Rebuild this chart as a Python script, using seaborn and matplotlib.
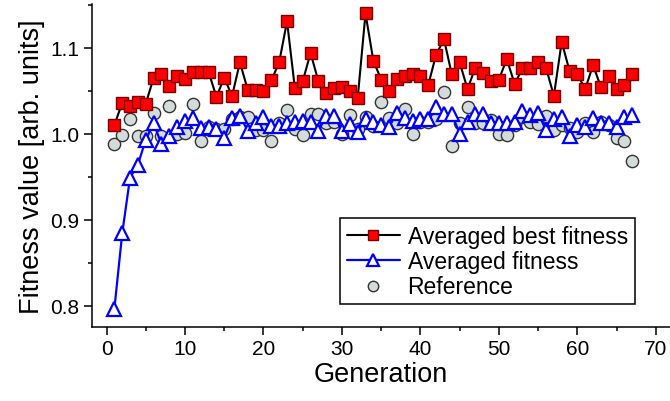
import matplotlib
matplotlib.use("Agg")
import matplotlib.pyplot as plt
from matplotlib.ticker import MultipleLocator
import seaborn as sns
import numpy as np

generation = list(range(1, 68))

best_fitness = [
    1.010, 1.036, 1.032, 1.037, 1.035, 1.065, 1.069, 1.055, 1.067, 1.064,
    1.072, 1.072, 1.072, 1.043, 1.065, 1.044, 1.083, 1.051, 1.051, 1.050,
    1.062, 1.083, 1.131, 1.053, 1.061, 1.094, 1.061, 1.047, 1.053, 1.054,
    1.050, 1.041, 1.140, 1.085, 1.063, 1.050, 1.064, 1.067, 1.069, 1.067,
    1.057, 1.092, 1.110, 1.069, 1.083, 1.052, 1.077, 1.071, 1.061, 1.063,
    1.087, 1.058, 1.076, 1.076, 1.083, 1.077, 1.044, 1.107, 1.073, 1.069,
    1.052, 1.080, 1.054, 1.067, 1.052, 1.057, 1.069,
]

avg_fitness = [
    0.796, 0.884, 0.949, 0.964, 0.993, 1.012, 0.988, 0.997, 1.008, 1.015,
    1.018, 1.007, 1.008, 1.006, 0.995, 1.018, 1.021, 1.003, 1.012, 1.019,
    1.009, 1.009, 1.013, 1.014, 1.015, 1.014, 1.003, 1.021, 1.021, 1.003,
    1.011, 1.002, 1.017, 1.014, 1.010, 1.008, 1.024, 1.018, 1.015, 1.017,
    1.017, 1.031, 1.023, 1.023, 1.000, 1.014, 1.023, 1.023, 1.012, 1.013,
    1.012, 1.014, 1.026, 1.022, 1.024, 1.004, 1.017, 1.019, 0.997, 1.010,
    1.008, 1.018, 1.012, 1.012, 1.008, 1.019, 1.022,
]

reference = [
    0.988, 0.999, 1.017, 0.997, 0.997, 1.024, 0.997, 1.032, 1.000, 1.001,
    1.035, 0.991, 1.008, 1.005, 1.006, 1.017, 1.019, 1.019, 1.004, 1.004,
    0.991, 1.013, 1.028, 1.005, 0.998, 1.023, 1.023, 1.013, 1.014, 1.000,
    1.022, 1.006, 1.019, 1.009, 1.037, 1.018, 1.012, 1.029, 1.000, 1.014,
    1.014, 1.017, 1.049, 0.986, 1.013, 1.031, 1.013, 1.013, 1.016, 1.000,
    0.999, 1.010, 1.020, 1.014, 1.011, 1.021, 1.004, 1.010, 1.007, 1.002,
    1.012, 1.002, 1.014, 1.010, 0.995, 0.991, 0.968,
]

labels = ["Averaged best fitness", "Averaged fitness", "Reference"]
x_ticks = [0, 10, 20, 30, 40, 50, 60, 70]
y_ticks = [0.8, 0.9, 1.0, 1.1]

sns.set_style("ticks")
plt.rcParams["font.family"] = ["Liberation Sans", "DejaVu Sans"]
plt.rcParams["text.color"] = "black"
plt.rcParams["axes.labelcolor"] = "black"
plt.rcParams["xtick.color"] = "black"
plt.rcParams["ytick.color"] = "black"

fig = plt.figure(figsize=(6.7, 4.02), dpi=100)
ax = fig.add_axes([92 / 670, 1 - 328 / 402, 1 - 92 / 670, (328 - 5) / 402])

sns.scatterplot(x=generation, y=reference, ax=ax, s=78, color="#d3dbdb",
                edgecolor="#333333", linewidth=1.0, zorder=2, label=labels[2])
sns.lineplot(x=generation, y=avg_fitness, ax=ax, color="#0000ff", linewidth=1.6,
             marker="^", markersize=9.5, markerfacecolor="white",
             markeredgecolor="#0000ff", markeredgewidth=1.6, zorder=3,
             label=labels[1], sort=False, estimator=None)
sns.lineplot(x=generation, y=best_fitness, ax=ax, color="black", linewidth=1.5,
             marker="s", markersize=8.6, markerfacecolor="#ff0000",
             markeredgecolor="#7a0000", markeredgewidth=1.0, zorder=4,
             label=labels[0], sort=False, estimator=None)

ax.set_xlim(-1.85, 71.8)
ax.set_ylim(0.775, 1.151)
ax.set_xticks(x_ticks)
ax.set_yticks(y_ticks)
ax.xaxis.set_minor_locator(MultipleLocator(5))
ax.yaxis.set_minor_locator(MultipleLocator(0.05))
ax.set_yticklabels([f"{v:.1f}" for v in y_ticks])

for side in ["top", "right"]:
    ax.spines[side].set_visible(False)
for side in ["left", "bottom"]:
    ax.spines[side].set_linewidth(1.1)
    ax.spines[side].set_color("black")

ax.tick_params(axis="both", which="major", direction="out", length=6, width=1.1,
               labelsize=15, pad=3, colors="black", labelcolor="black")
ax.tick_params(axis="both", which="minor", direction="out", length=3.2, width=1.1,
               colors="black")

ax.set_xlabel("Generation", fontsize=19.5, labelpad=2, color="black")
ax.set_ylabel("Fitness value [arb. units]", fontsize=19.5, labelpad=4, color="black")

handles, labs = ax.get_legend_handles_labels()
order = [labs.index(l) for l in labels]
leg = ax.legend([handles[i] for i in order], [labs[i] for i in order],
                loc="lower left", bbox_to_anchor=(0.429, 0.07), borderaxespad=0,
                fontsize=16.5, frameon=True, fancybox=False, edgecolor="black",
                handlelength=2.3, handletextpad=0.35, labelspacing=0.08,
                borderpad=0.3, markerscale=0.85)
leg.get_frame().set_linewidth(1.1)
leg.get_frame().set_alpha(1)
for t in leg.get_texts():
    t.set_color("black")

fig.savefig("out.png", dpi=100)
